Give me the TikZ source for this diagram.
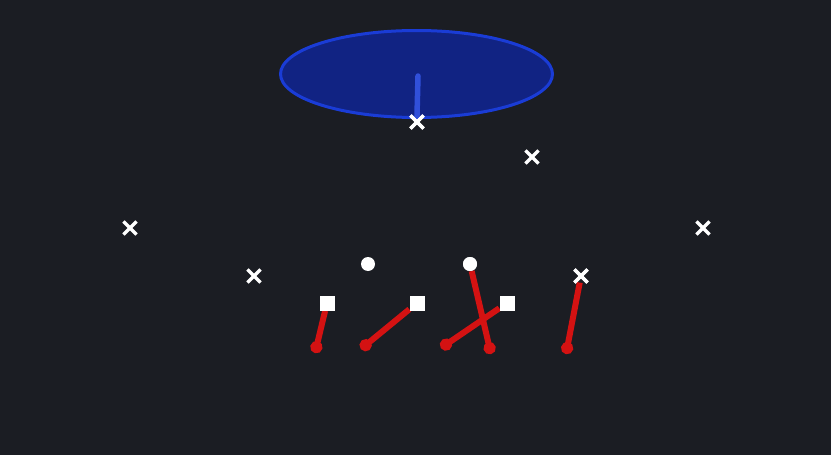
\documentclass[tikz,border=0pt]{standalone}
\usetikzlibrary{shapes,arrows.meta}

\definecolor{bg}{HTML}{1B1D23}
\definecolor{zonefill}{HTML}{112383}
\definecolor{zoneline}{HTML}{1A3CD6}
\definecolor{routered}{HTML}{D41212}

\begin{document}
\begin{tikzpicture}[x=1pt,y=-1pt]
        \tikzstyle{defender}=[cross out,draw=white,line width=3.2pt,minimum size=10pt,inner sep=0pt]
        \tikzstyle{lineman}=[rectangle,fill=white,minimum size=15pt,inner sep=0pt]
        \tikzstyle{back}=[circle,fill=white,minimum size=14pt,inner sep=0pt]
        \tikzstyle{route}=[routered,line width=6pt,-{Circle[length=12pt,width=12pt]}]

        \fill[bg] (0,0) rectangle (831,455);

        % zone
        \node[ellipse,draw=zoneline,fill=zonefill,line width=3pt,minimum width=272pt,minimum height=87pt] (zone) at (416.5,74) {};
        \coordinate (zonetop) at (418,76);

        % defence
        \node[defender] (d1) at (417,122) {};
        \node[defender] (d2) at (532,157) {};
        \node[defender] (d3) at (130,228) {};
        \node[defender] (d4) at (703,228) {};
        \node[defender] (d5) at (254,276) {};
        \node[defender] (d6) at (581,276) {};

        % offence
        \node[back] (b1) at (368,264) {};
        \node[back] (b2) at (470,264) {};
        \node[lineman] (l1) at (327,303) {};
        \node[lineman] (l2) at (417,303) {};
        \node[lineman] (l3) at (507,303) {};

        \coordinate (e1) at (315,353);
        \coordinate (e2) at (361,349);
        \coordinate (e3) at (441,348);
        \coordinate (e4) at (491,354);
        \coordinate (e5) at (566,354);

        \draw[zoneline!90!white,line width=5.5pt,line cap=round] (d1.north) -- (zonetop);  % drop
        \draw[route] (l1) -- (e1);  % l1
        \draw[route] (l2) -- (e2);  % l2
        \draw[route] (l3) -- (e3);  % l3
        \draw[route] (b2) -- (e4);  % b2
        \draw[route] (d6) -- (e5);  % d6
        \node[lineman] at (l1) {};
        \node[lineman] at (l2) {};
        \node[lineman] at (l3) {};
        \node[back] at (b2) {};
        \node[defender] at (d6) {};
        \node[defender] at (d1) {};
\end{tikzpicture}
\end{document}
